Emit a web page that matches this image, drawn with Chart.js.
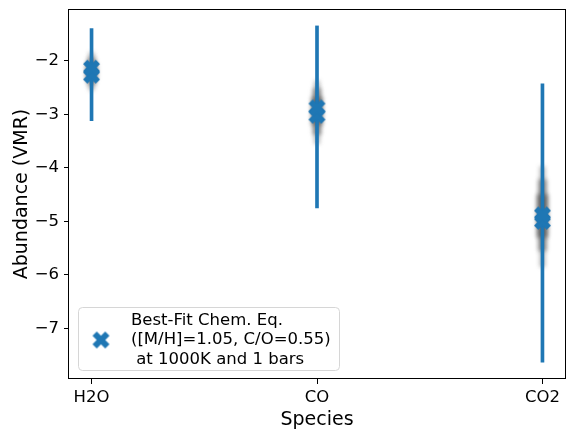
<!DOCTYPE html>
<html>
<head>
<meta charset="utf-8">
<script src="https://cdn.jsdelivr.net/npm/chart.js@4.4.1/dist/chart.umd.min.js"></script>
<style>
  html, body { margin: 0; padding: 0; background: #fff; }
</style>
</head>
<body>
<canvas id="chart" width="574" height="438"></canvas>
<script>
// Species on the x axis
const species = ['H2O', 'CO', 'CO2'];
// Retrieved range (blue error bars)
const errLow = [-3.12, -4.75, -7.63];
const errHigh = [-1.40, -1.35, -2.43];
// Best-fit chemical equilibrium markers (two per species)
const bestFitUpper = [-2.14, -2.88, -4.88];
const bestFitLower = [-2.27, -3.02, -5.00];
// Posterior spread (gray cloud), three nested bands per species
const cloudOuter = [[-2.55, -1.85], [-3.55, -2.38], [-5.85, -3.98]];
const cloudMid = [[-2.45, -1.95], [-3.38, -2.52], [-5.55, -4.22]];
const cloudInner = [[-2.35, -2.05], [-3.20, -2.68], [-5.30, -4.50]];
const yTicks = [-7, -6, -5, -4, -3, -2];
const xTicks = [0, 1, 2];
const legendLabel = 'Best-Fit Chem. Eq.\n([M/H]=1.05, C/O=0.55)\n at 1000K and 1 bars';

const BLUE = '#1f77b4';
const FONT = 'DejaVu Sans';

// matplotlib style filled "X" marker
function makeXMarker(size, color) {
    const c = document.createElement('canvas');
    c.width = c.height = size + 2;
    const ctx = c.getContext('2d');
    const s = size / 4;
    const pts = [[-1, -2], [0, -1], [1, -2], [2, -1], [1, 0], [2, 1], [1, 2], [0, 1], [-1, 2], [-2, 1], [-1, 0], [-2, -1]];
    ctx.translate(c.width / 2, c.height / 2);
    ctx.beginPath();
    pts.forEach(([x, y], i) => i ? ctx.lineTo(x * s, y * s) : ctx.moveTo(x * s, y * s));
    ctx.closePath();
    ctx.fillStyle = color;
    ctx.fill();
    return c;
}
const marker = makeXMarker(17, BLUE);

function band(ranges) {
    return ranges.map((r, i) => ({ x: i, y: r }));
}

// soften the gray cloud bars
const blurPlugin = {
    id: 'cloudBlur',
    beforeDatasetDraw(chart, args) {
        if (args.meta._dataset.cloud) {
            chart.ctx.save();
            chart.ctx.filter = 'blur(2px)';
        }
    },
    afterDatasetDraw(chart, args) {
        if (args.meta._dataset.cloud) chart.ctx.restore();
    }
};

const framePlugin = {
    id: 'frame',
    afterDatasetsDraw(chart) {
        const { ctx, chartArea: a } = chart;
        ctx.save();
        ctx.strokeStyle = '#000';
        ctx.lineWidth = 1;
        ctx.strokeRect(Math.round(a.left) - 0.5, Math.round(a.top) + 0.5,
            Math.round(a.width) + 1, Math.round(a.height) - 1);
        ctx.restore();
    }
};

const legendPlugin = {
    id: 'boxLegend',
    afterDraw(chart) {
        const ctx = chart.ctx;
        const x = 78, y = 307, w = 261, h = 63, r = 4;
        ctx.save();
        ctx.beginPath();
        ctx.roundRect(x + 0.5, y + 0.5, w, h, r);
        ctx.fillStyle = 'rgba(255,255,255,0.8)';
        ctx.fill();
        ctx.strokeStyle = '#d6d6d6';
        ctx.lineWidth = 1;
        ctx.stroke();
        ctx.drawImage(marker, 101 - marker.width / 2, 340 - marker.height / 2);
        ctx.fillStyle = '#000';
        ctx.font = '16.5px "' + FONT + '"';
        ctx.textBaseline = 'middle';
        legendLabel.split('\n').forEach((line, i) => {
            ctx.fillText(line, 131, 320.5 + i * 19.5);
        });
        ctx.restore();
    }
};

const cloudBar = (ranges, thickness, alpha, order) => ({
    type: 'bar',
    data: band(ranges),
    backgroundColor: `rgba(70,70,70,${alpha})`,
    barThickness: thickness,
    grouped: false,
    cloud: true,
    order: order
});

new Chart(document.getElementById('chart'), {
    type: 'scatter',
    data: {
        datasets: [
            {
                label: legendLabel,
                data: species.map((s, i) => ({ x: i, y: bestFitUpper[i] })),
                pointStyle: marker,
                order: 0
            },
            {
                label: 'lower',
                data: species.map((s, i) => ({ x: i, y: bestFitLower[i] })),
                pointStyle: marker,
                order: 0
            },
            {
                type: 'bar',
                label: 'range',
                data: species.map((s, i) => ({ x: i, y: [errLow[i], errHigh[i]] })),
                backgroundColor: BLUE,
                barThickness: 3,
                grouped: false,
                order: 1
            },
            cloudBar(cloudInner, 11, 0.55, 2),
            cloudBar(cloudMid, 8, 0.5, 3),
            cloudBar(cloudOuter, 5, 0.4, 4)
        ]
    },
    options: {
        responsive: false,
        devicePixelRatio: 1,
        animation: false,
        layout: { padding: { top: 9, right: 9, left: 0, bottom: 0 } },
        plugins: { legend: { display: false }, tooltip: { enabled: false } },
        scales: {
            x: {
                type: 'linear',
                min: -0.1,
                max: 2.1,
                offset: false,
                afterBuildTicks: s => { s.ticks = xTicks.map(v => ({ value: v })); },
                afterFit: s => { s.height = 59; s.paddingLeft = 0; s.paddingRight = 0; },
                ticks: {
                    callback: v => species[v],
                    color: '#000',
                    font: { family: FONT, size: 16.5 },
                    padding: 4,
                    maxRotation: 0,
                    autoSkip: false
                },
                grid: { offset: false, drawOnChartArea: false, drawTicks: true, tickLength: 5, color: '#000' },
                border: { display: false },
                title: {
                    display: true,
                    text: 'Species',
                    color: '#000',
                    font: { family: FONT, size: 19 },
                    padding: { top: 0, bottom: 6.8 }
                }
            },
            y: {
                type: 'linear',
                min: -7.946,
                max: -1.034,
                afterBuildTicks: s => { s.ticks = yTicks.map(v => ({ value: v })); },
                afterFit: s => { s.width = 69; s.paddingTop = 0; s.paddingBottom = 0; },
                ticks: {
                    callback: v => '\u2212' + Math.abs(v),
                    color: '#000',
                    font: { family: FONT, size: 16.5 },
                    padding: 5
                },
                grid: { drawOnChartArea: false, drawTicks: true, tickLength: 5, color: '#000' },
                border: { display: false },
                title: {
                    display: true,
                    text: 'Abundance (VMR)',
                    color: '#000',
                    font: { family: FONT, size: 19 },
                    padding: { top: 10.2, bottom: 0 }
                }
            }
        }
    },
    plugins: [blurPlugin, framePlugin, legendPlugin]
});
</script>
</body>
</html>
